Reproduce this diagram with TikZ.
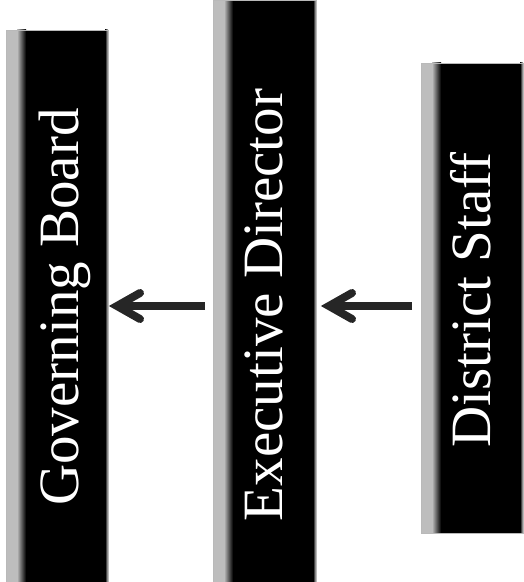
\documentclass[tikz,border=0pt]{standalone}
\usepackage{fontspec}
\setmainfont{Liberation Serif}
\usetikzlibrary{calc}

\tikzset{
  orgbox/.style={
    fill=black, draw=gray!55, line width=0.8pt,
    inner sep=0pt, outer sep=0pt, anchor=south west,
    path picture={
      % bevelled look: light band on the left, faint line on the right
      \fill[gray!52]
        (path picture bounding box.south west)
        rectangle ([xshift=11pt]path picture bounding box.north west);
      \shade[left color=gray!52, right color=black]
        ([xshift=11pt]path picture bounding box.south west)
        rectangle ([xshift=20pt]path picture bounding box.north west);
      \shade[left color=black, right color=gray!40]
        ([xshift=-3pt]path picture bounding box.south east)
        rectangle (path picture bounding box.north east);
    }
  },
  orglabel/.style={
    rotate=90, text=white, inner sep=0pt,
    font=\fontsize{57}{60}\selectfont,
    text height=37.7pt, text depth=0pt
  },
  conn/.style={
    draw=black!85, line width=8pt, line join=miter
  },
  barb/.style={
    draw=black!85, line width=8pt, line cap=round, line join=miter
  }
}

\begin{document}
\begin{tikzpicture}[x=1pt, y=1pt]
  \useasboundingbox (0,0) rectangle (523,582);

  % the three boxes
  \node[orgbox, minimum width=102pt, minimum height=552pt] (gb) at (6,0) {};
  \node[orgbox, minimum width=103pt, minimum height=582pt] (ed) at (213,0) {};
  \node[orgbox, minimum width=102pt, minimum height=470pt] (ds) at (421,49) {};

  % labels, reading upwards
  \node[orglabel] (gbt) at ([xshift=2.5pt, yshift=-1pt]gb.center) {Governing Board};
  \node[orglabel] (edt) at ([xshift=-1pt, yshift=-14pt]ed.center) {Executive Director};
  \node[orglabel] (dst) at ([yshift=-2pt]ds.center) {District Staff};

  % connector end points
  \coordinate (h1) at ([xshift=9pt]gb.east);
  \coordinate (t1) at ([xshift=-8pt]ed.west |- gb.east);
  \coordinate (h2) at ([xshift=13pt]ed.east |- gb.east);
  \coordinate (t2) at ([xshift=-9pt]ds.west |- gb.east);

  % Executive Director -> Governing Board
  \draw[conn] (t1) -- (h1);
  \draw[barb] ($(h1)+(23,13)$) -- (h1) -- ($(h1)+(23,-13)$);

  % District Staff -> Executive Director
  \draw[conn] (t2) -- (h2);
  \draw[barb] ($(h2)+(23,13)$) -- (h2) -- ($(h2)+(23,-13)$);
\end{tikzpicture}
\end{document}
